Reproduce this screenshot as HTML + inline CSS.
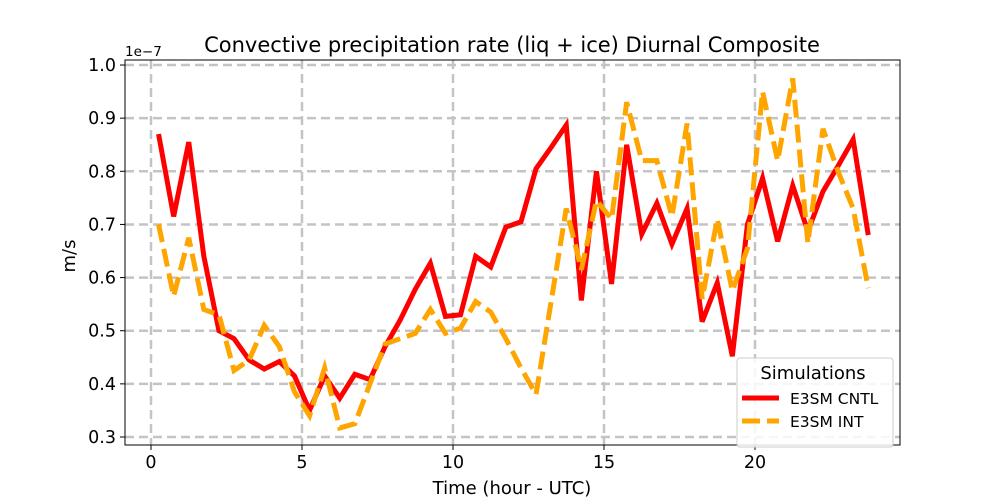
<!DOCTYPE html>
<html><head><meta charset="utf-8"><style>body{margin:0;background:#fff}svg{display:block;font-family:"DejaVu Sans","Liberation Sans",sans-serif}</style></head>
<body>
<svg id="chart" width="1000" height="500" viewBox="0 0 1000 500"></svg>
<script>
const hours = [];
for (let i = 0; i < 48; i++) hours.push(0.25 + i * 0.5);
const cntlValues = [0.87,0.715,0.855,0.64,0.5,0.485,0.445,0.428,0.442,0.415,0.35,0.415,0.373,0.418,0.408,0.47,0.52,0.578,0.627,0.527,0.53,0.64,0.62,0.695,0.705,0.805,0.845,0.887,0.557,0.80,0.588,0.85,0.682,0.74,0.663,0.73,0.517,0.59,0.452,0.70,0.787,0.668,0.773,0.687,0.762,0.81,0.86,0.68];
const intValues = [0.70,0.565,0.675,0.54,0.53,0.425,0.445,0.51,0.47,0.385,0.34,0.43,0.317,0.325,0.40,0.475,0.485,0.495,0.54,0.495,0.505,0.555,0.535,0.485,0.43,0.38,0.555,0.73,0.615,0.745,0.71,0.93,0.82,0.82,0.715,0.89,0.56,0.71,0.575,0.655,0.95,0.82,0.975,0.665,0.88,0.80,0.73,0.58];
const xTicks = [0,5,10,15,20];
const yTicks = [0.3,0.4,0.5,0.6,0.7,0.8,0.9,1.0];
const yTickLabels = ["0.3","0.4","0.5","0.6","0.7","0.8","0.9","1.0"];

const svg = document.getElementById('chart');
const NS = 'http://www.w3.org/2000/svg';
const L=125,R=900,T=60,B=445;
const xs = v => 151 + v * 30.2;
const ys = v => 437 - (v - 0.3) / 0.1 * 53.14;
function mk(tag, attrs, parent){const e=document.createElementNS(NS,tag);for(const k in attrs)e.setAttribute(k,attrs[k]);(parent||svg).appendChild(e);return e;}

const grid = mk('g',{});


xTicks.forEach(t=>{
  const l=mk('line',{x1:xs(t),x2:xs(t),y1:T,y2:B,stroke:'#c4c4c4','stroke-width':2.5,'stroke-dasharray':'9,5'},grid);
  
  
  const tk=mk('line',{x1:xs(t),x2:xs(t),y1:B,y2:B+5,stroke:'#000','stroke-width':1});
  
  
  const tx=mk('text',{x:xs(t),y:B+23,'text-anchor':'middle','font-size':17.5});
  tx.textContent=t;
  
  
});
yTicks.forEach((t,i)=>{
  const l=mk('line',{x1:L,x2:R,y1:ys(t),y2:ys(t),stroke:'#c4c4c4','stroke-width':2.5,'stroke-dasharray':'9,5'},grid);
  
  
  const tk=mk('line',{x1:L-5,x2:L,y1:ys(t),y2:ys(t),stroke:'#000','stroke-width':1});
  
  
  const tx=mk('text',{x:L-9,y:ys(t)+6,'text-anchor':'end','font-size':17.5});
  tx.textContent=yTickLabels[i];
  
  
});
function series(vals,color,dash,name){
  const p=mk('polyline',{points:vals.map((v,i)=>xs(hours[i])+','+ys(v)).join(' '),fill:'none',stroke:color,'stroke-width':5,'stroke-linejoin':'miter'});
  if(dash)p.setAttribute('stroke-dasharray',dash);
  
  
}
series(cntlValues,'#ff0000',null,'cntl-line');
series(intValues,'#ffa500','18,7','int-line');

const frame=mk('rect',{x:L,y:T,width:R-L,height:B-T,fill:'none',stroke:'#000','stroke-width':1});



function txt(s,attrs,name){const e=mk('text',attrs);e.textContent=s;return e;}
txt('Convective precipitation rate (liq + ice) Diurnal Composite',{x:512,y:52,'text-anchor':'middle','font-size':21},'chart-title');
txt('Time (hour - UTC)',{x:512,y:494,'text-anchor':'middle','font-size':18},'x-axis-title');
txt('m/s',{x:75,y:256,'text-anchor':'middle','font-size':18,transform:'rotate(-90 75 256)'},'y-axis-title');
txt('1e\u22127',{x:125,y:56,'font-size':13.5},'y-axis-offset');

const lg=mk('g',{});


mk('rect',{x:737,y:358,width:156,height:89,rx:3,fill:'#fff','fill-opacity':0.85,stroke:'#ccc'},lg);
txt('Simulations',{x:813,y:379,'text-anchor':'middle','font-size':18},'legend-title');
const l1=mk('line',{x1:742,x2:779,y1:398,y2:398,stroke:'#ff0000','stroke-width':5},lg);


txt('E3SM CNTL',{x:790,y:404,'font-size':15.5},'legend-cntl-label');
const l2=mk('line',{x1:742,x2:779,y1:421,y2:421,stroke:'#ffa500','stroke-width':5,'stroke-dasharray':'18,7'},lg);


txt('E3SM INT',{x:790,y:427,'font-size':15.5},'legend-int-label');
</script>
</body></html>
